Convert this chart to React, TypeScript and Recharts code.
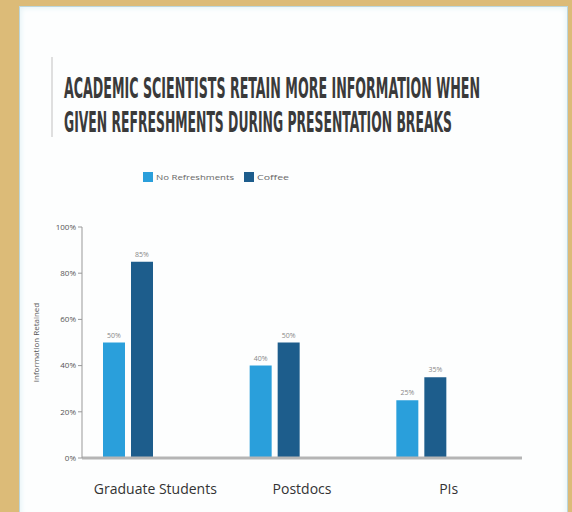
import { Bar, BarChart, LabelList, Legend, XAxis, YAxis } from "recharts";

const groups = ["Graduate Students", "Postdocs", "PIs"];
const noRefreshments = [50, 40, 25];
const coffee = [85, 50, 35];
const yTicks = [0, 20, 40, 60, 80, 100];
const titleLines = [
  "ACADEMIC SCIENTISTS RETAIN MORE INFORMATION WHEN",
  "GIVEN REFRESHMENTS DURING PRESENTATION BREAKS",
];

const LIGHT = "#2a9fdb";
const DARK = "#1d5d8c";

const data = groups.map((g, i) => ({
  group: g,
  none: noRefreshments[i],
  coffee: coffee[i],
}));

const pct = (v: any) => `${v}%`;

const LegendBox = () => (
  <svg width={170} height={14}>
    <rect x={3} y={1} width={10} height={10} fill={LIGHT} />
    <text x={16} y={9} fontSize={8} fill="#666" textLength={78} lengthAdjust="spacingAndGlyphs">
      No Refreshments
    </text>
    <rect x={104} y={1} width={10} height={10} fill={DARK} />
    <text x={117} y={9} fontSize={8} fill="#666" textLength={32} lengthAdjust="spacingAndGlyphs">
      Coffee
    </text>
  </svg>
);

const titleFont = "'Liberation Sans Narrow', 'DejaVu Sans Condensed', sans-serif";

export default function App() {
  return (
    <div
      style={{
        position: "absolute",
        left: 0,
        top: 0,
        width: 572,
        height: 512,
        background: "#dcbb78",
        overflow: "hidden",
      }}
    >
      <div
        style={{
          position: "absolute",
          left: 19,
          top: 6,
          width: 547,
          height: 510,
          background: "#fdfefe",
          border: "1px solid #bcd6dc",
          boxShadow: "inset 0 0 6px #dceff4",
        }}
      />
      <svg style={{ position: "absolute", left: 0, top: 0 }} width={572} height={160}>
        <line x1={52} y1={57} x2={52} y2={137} stroke="#d4d4d4" strokeWidth={1.5} />
        <g transform="translate(0, 98) scale(1, 1.4)">
          <text
            x={64}
            y={0}
            fontFamily={titleFont}
            fontWeight="bold"
            fontSize={20}
            fill="#3a3a3a"
            textLength={416}
            lengthAdjust="spacingAndGlyphs"
          >
            {titleLines[0]}
          </text>
        </g>
        <g transform="translate(0, 132) scale(1, 1.4)">
          <text
            x={64}
            y={0}
            fontFamily={titleFont}
            fontWeight="bold"
            fontSize={20}
            fill="#3a3a3a"
            textLength={388}
            lengthAdjust="spacingAndGlyphs"
          >
            {titleLines[1]}
          </text>
        </g>
      </svg>
      <div style={{ position: "absolute", left: 0, top: 0 }}>
        <BarChart
          width={572}
          height={512}
          data={data}
          margin={{ top: 205, right: 50, bottom: 24, left: 30 }}
          barSize={22}
          barGap={6}
          style={{ fontFamily: "'Open Sans', sans-serif" }}
        >
          <XAxis xAxisId="bars" dataKey="group" hide height={0} padding={{ left: -27, right: 27 }} />
          <XAxis
            xAxisId="labels"
            dataKey="group"
            height={30}
            axisLine={{ stroke: "#b5b5b5", strokeWidth: 3 }}
            tickLine={false}
            tick={{ fill: "#333", fontSize: 14 }}
            tickMargin={20}
          />
          <YAxis
            domain={[0, 100]}
            ticks={yTicks}
            tickFormatter={pct}
            width={52}
            axisLine={{ stroke: "#999" }}
            tickLine={{ stroke: "#999" }}
            tickSize={4}
            tick={{ fill: "#555", fontSize: 8 }}
            label={{
              value: "Information Retained",
              angle: -90,
              position: "insideLeft",
              offset: 6,
              style: { fontSize: 8, fill: "#555", textAnchor: "middle" },
            }}
          />
          <Legend
            verticalAlign="top"
            align="left"
            wrapperStyle={{ top: 168, left: 140, width: 170 }}
            content={() => <LegendBox />}
          />
          <Bar xAxisId="bars" dataKey="none" name="No Refreshments" fill={LIGHT} isAnimationActive={false}>
            <LabelList dataKey="none" position="top" formatter={pct} fontSize={7} fill="#888" />
          </Bar>
          <Bar xAxisId="bars" dataKey="coffee" name="Coffee" fill={DARK} isAnimationActive={false}>
            <LabelList dataKey="coffee" position="top" formatter={pct} fontSize={7} fill="#888" />
          </Bar>
        </BarChart>
      </div>
    </div>
  );
}
